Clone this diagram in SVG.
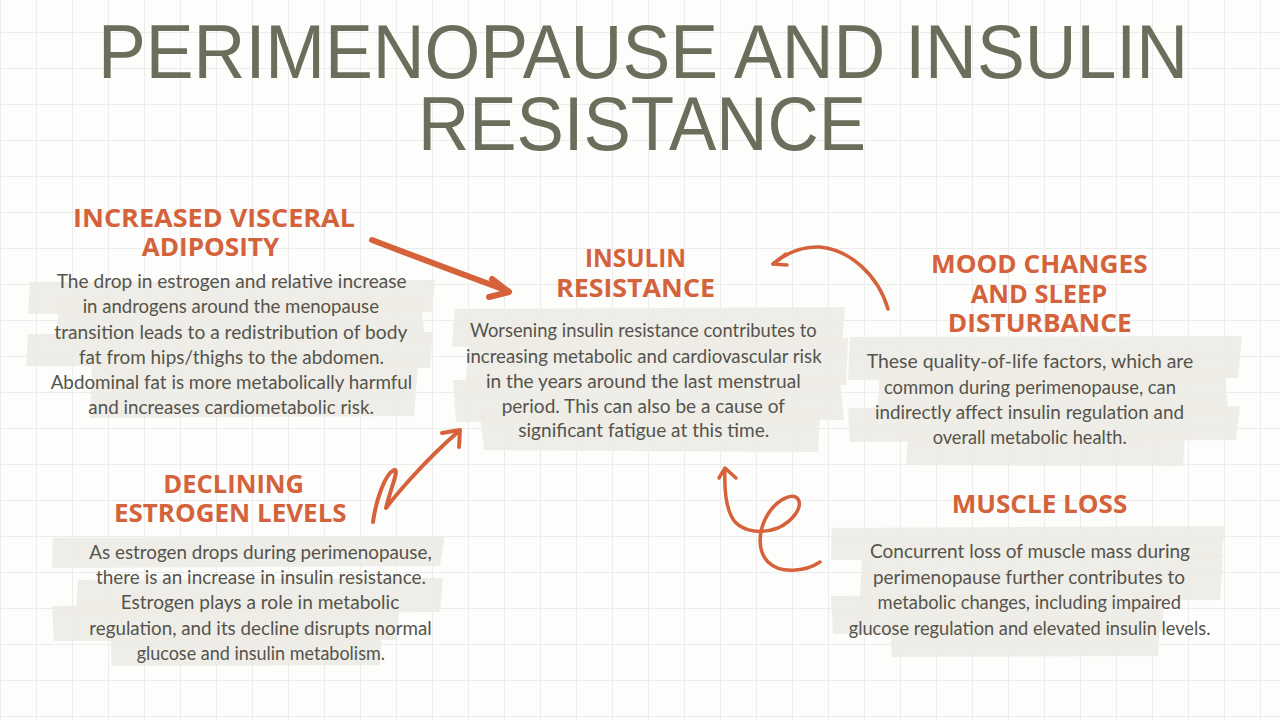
<svg xmlns="http://www.w3.org/2000/svg" width="1280" height="720" viewBox="0 0 1280 720">
<defs>
<pattern id="grid" width="36" height="36" patternUnits="userSpaceOnUse" x="0" y="32">
<path d="M0,0.5 H36 M0.5,0 V36" fill="none" stroke="#ececec" stroke-width="1"/>
</pattern>
<style>
.title{font-family:"Liberation Sans",Arial,sans-serif;font-size:76px;fill:#6b6e5a;text-anchor:middle}
.head{font-family:"Open Sans","Liberation Sans",sans-serif;font-weight:700;font-size:24.5px;fill:#d4623b;text-anchor:middle}
.body{font-family:Lato,"Liberation Sans",sans-serif;font-size:18.5px;fill:#55544c;text-anchor:middle}
.brush{fill:#eeebe5;opacity:0.92}
.arrow{fill:none;stroke:#d5623a;stroke-linecap:round;stroke-linejoin:round}
</style>
</defs>
<rect width="1280" height="720" fill="#fdfdfc"/>
<rect width="1280" height="720" fill="url(#grid)"/>

<g id="title">
<text class="title" x="643" y="77.5" textLength="1090" lengthAdjust="spacingAndGlyphs">PERIMENOPAUSE AND INSULIN</text>
<text class="title" x="642" y="150" textLength="448" lengthAdjust="spacingAndGlyphs">RESISTANCE</text>
</g>

<g id="connectors">
<path class="arrow" stroke-width="6" d="M372,240 Q440,266 508,291"/>
<path class="arrow" stroke-width="6" d="M492,279 L509,292 L489,297"/>
<path class="arrow" stroke-width="3.5" d="M888,309 C878,275 850,250 820,247 C800,246 785,254 773,264"/>
<path class="arrow" stroke-width="3.5" d="M786,254 L773,264 L787,265"/>
<path class="arrow" stroke-width="4" d="M373,522 C376,500 385,474 394,470 C400,468 390,490 386,508 C392,500 420,465 459,431"/>
<path class="arrow" stroke-width="4" d="M442,433 L460,430 L459,447"/>
<path class="arrow" stroke-width="3.5" d="M820,562 C805,572 780,574 768,562 C757,551 758,530 768,514 C777,500 792,492 798,499 C803,507 793,521 778,528 C762,534 745,532 735,522 C727,512 724,492 725,469"/>
<path class="arrow" stroke-width="3.5" d="M719,478 L725,468 L736,478"/>
</g>

<g id="node-visceral">
<polygon class="brush" points="30,282 435,280 432,312 28,314"/>
<polygon class="brush" points="60,302 420,300 425,338 55,340"/>
<polygon class="brush" points="28,334 433,332 430,368 26,366"/>
<polygon class="brush" points="92,366 418,364 414,416 90,418"/>
<text class="head" x="214" y="227" textLength="282" lengthAdjust="spacingAndGlyphs">INCREASED VISCERAL</text>
<text class="head" x="210.5" y="256" textLength="137.6" lengthAdjust="spacingAndGlyphs">ADIPOSITY</text>
<text class="body" x="231.7" y="288.3" textLength="350" lengthAdjust="spacingAndGlyphs">The drop in estrogen and relative increase</text>
<text class="body" x="230.8" y="313.3" textLength="296.3" lengthAdjust="spacingAndGlyphs">in androgens around the menopause</text>
<text class="body" x="230.8" y="338.7" textLength="353" lengthAdjust="spacingAndGlyphs">transition leads to a redistribution of body</text>
<text class="body" x="231.5" y="364" textLength="305" lengthAdjust="spacingAndGlyphs">fat from hips/thighs to the abdomen.</text>
<text class="body" x="231.5" y="389" textLength="361.6" lengthAdjust="spacingAndGlyphs">Abdominal fat is more metabolically harmful</text>
<text class="body" x="231.2" y="414.3" textLength="285.7" lengthAdjust="spacingAndGlyphs">and increases cardiometabolic risk.</text>
</g>

<g id="node-insulin">
<polygon class="brush" points="455,309 845,307 842,345 452,347"/>
<polygon class="brush" points="470,340 848,338 846,385 465,387"/>
<polygon class="brush" points="453,380 840,378 844,420 456,422"/>
<polygon class="brush" points="480,415 820,413 818,452 484,450"/>
<text class="head" x="635.5" y="267" textLength="101" lengthAdjust="spacingAndGlyphs">INSULIN</text>
<text class="head" x="635.5" y="297" textLength="159" lengthAdjust="spacingAndGlyphs">RESISTANCE</text>
<text class="body" x="643.3" y="337.3" textLength="346.7" lengthAdjust="spacingAndGlyphs">Worsening insulin resistance contributes to</text>
<text class="body" x="643.8" y="362.7" textLength="355.7" lengthAdjust="spacingAndGlyphs">increasing metabolic and cardiovascular risk</text>
<text class="body" x="643.3" y="387.7" textLength="314.7" lengthAdjust="spacingAndGlyphs">in the years around the last menstrual</text>
<text class="body" x="643.3" y="412.7" textLength="283.3" lengthAdjust="spacingAndGlyphs">period. This can also be a cause of</text>
<text class="body" x="643.8" y="437.3" textLength="251" lengthAdjust="spacingAndGlyphs">significant fatigue at this time.</text>
</g>

<g id="node-mood">
<polygon class="brush" points="850,337 1242,336 1238,378 848,380"/>
<polygon class="brush" points="880,372 1225,370 1228,412 877,414"/>
<polygon class="brush" points="848,408 1240,406 1236,440 850,442"/>
<polygon class="brush" points="908,436 1185,434 1183,466 906,465"/>
<text class="head" x="1039.3" y="272.7" textLength="216.7" lengthAdjust="spacingAndGlyphs">MOOD CHANGES</text>
<text class="head" x="1039" y="302.7" textLength="136.6" lengthAdjust="spacingAndGlyphs">AND SLEEP</text>
<text class="head" x="1039.7" y="331.7" textLength="184" lengthAdjust="spacingAndGlyphs">DISTURBANCE</text>
<text class="body" x="1030" y="368.3" textLength="326.6" lengthAdjust="spacingAndGlyphs">These quality-of-life factors, which are</text>
<text class="body" x="1030" y="394" textLength="292" lengthAdjust="spacingAndGlyphs">common during perimenopause, can</text>
<text class="body" x="1029.5" y="419" textLength="309" lengthAdjust="spacingAndGlyphs">indirectly affect insulin regulation and</text>
<text class="body" x="1029.7" y="444" textLength="194" lengthAdjust="spacingAndGlyphs">overall metabolic health.</text>
</g>

<g id="node-estrogen">
<polygon class="brush" points="53,538 445,536 440,566 52,568"/>
<polygon class="brush" points="78,580 443,578 440,612 76,614"/>
<polygon class="brush" points="52,606 400,604 396,640 54,641"/>
<polygon class="brush" points="110,634 382,632 380,665 112,666"/>
<text class="head" x="233.7" y="492.7" textLength="140.7" lengthAdjust="spacingAndGlyphs">DECLINING</text>
<text class="head" x="230.3" y="521.7" textLength="232.7" lengthAdjust="spacingAndGlyphs">ESTROGEN LEVELS</text>
<text class="body" x="260.5" y="559.3" textLength="342.4" lengthAdjust="spacingAndGlyphs">As estrogen drops during perimenopause,</text>
<text class="body" x="261" y="584.3" textLength="330" lengthAdjust="spacingAndGlyphs">there is an increase in insulin resistance.</text>
<text class="body" x="260" y="609.3" textLength="278.6" lengthAdjust="spacingAndGlyphs">Estrogen plays a role in metabolic</text>
<text class="body" x="260.5" y="634.7" textLength="342.4" lengthAdjust="spacingAndGlyphs">regulation, and its decline disrupts normal</text>
<text class="body" x="260.8" y="660" textLength="248.3" lengthAdjust="spacingAndGlyphs">glucose and insulin metabolism.</text>
</g>

<g id="node-muscle">
<polygon class="brush" points="832,528 1225,526 1221,558 831,560"/>
<polygon class="brush" points="862,556 1223,554 1220,600 860,602"/>
<polygon class="brush" points="831,596 1165,594 1162,632 833,634"/>
<polygon class="brush" points="890,624 1160,622 1158,656 892,657"/>
<text class="head" x="1039.5" y="512.7" textLength="175.7" lengthAdjust="spacingAndGlyphs">MUSCLE LOSS</text>
<text class="body" x="1030" y="558.3" textLength="320" lengthAdjust="spacingAndGlyphs">Concurrent loss of muscle mass during</text>
<text class="body" x="1029" y="584" textLength="312" lengthAdjust="spacingAndGlyphs">perimenopause further contributes to</text>
<text class="body" x="1029.3" y="609.3" textLength="303.4" lengthAdjust="spacingAndGlyphs">metabolic changes, including impaired</text>
<text class="body" x="1029.6" y="635" textLength="361.8" lengthAdjust="spacingAndGlyphs">glucose regulation and elevated insulin levels.</text>
</g>
</svg>
